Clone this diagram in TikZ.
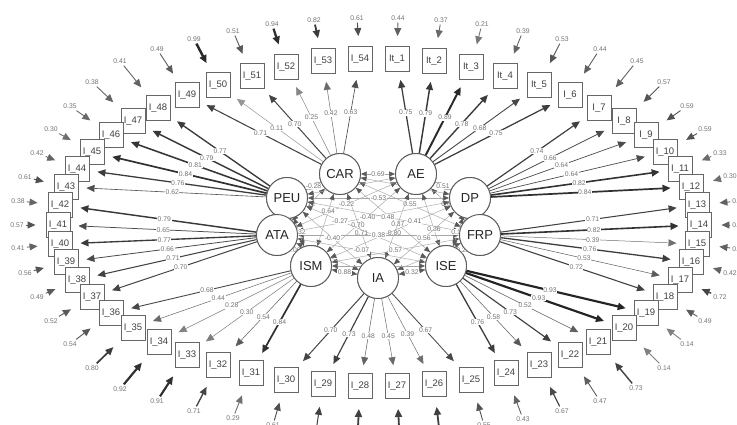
\documentclass[tikz,border=0pt]{standalone}
\usepackage{fontspec}
\setmainfont{Liberation Sans}
\usetikzlibrary{arrows.meta}
\newcommand\ldg[3]{%
  \pgfmathsetmacro\lw{0.5+5*max(0,#3-0.6)}%
  \pgfmathtruncatemacro\lc{35+55*#3}%
  \draw[load, line width=\lw pt, draw=black!\lc] (#1) -- node[lab]{#3} (#2);}
\newcommand\er[5]{%
  \node[val] (e#1) at (#2,#3) {#4};%
  \pgfmathsetmacro\lw{0.9+4*max(0,#4-0.6)}%
  \pgfmathtruncatemacro\lc{45+40*#4}%
  \draw[errar, line width=\lw pt, draw=black!\lc] (e#1) -- (#5);}
\newcommand\erc[5]{%
  \coordinate (e#1) at (#2,#3);%
  \draw[errar, line width=#4pt, draw=black!75] (e#1) -- (#5);}
\newcommand\cv[4][0.5]{\draw[cov] (#2) -- node[lab,pos=#1]{#4} (#3);}
\newcommand\cvn[2]{\draw[cov] (#1) -- (#2);}
\begin{document}
\begin{tikzpicture}[x=1pt,y=-1pt,
  item/.style={draw=black!60, line width=0.9pt, fill=white, minimum width=24pt, minimum height=25pt, inner sep=0pt, font=\fontsize{9.5}{10}\selectfont, text=black!75},
  lat/.style={circle, draw=black!65, line width=0.9pt, fill=white, minimum size=41pt, inner sep=0pt, font=\fontsize{13}{14}\selectfont, text=black!85},
  val/.style={font=\fontsize{6.8}{7}\selectfont, text=black!55, inner sep=2pt},
  lab/.style={font=\fontsize{6.8}{7}\selectfont, text=black!55, fill=white, inner sep=0.6pt},
  load/.style={-{Triangle[length=8pt,width=7pt]}, shorten >=8pt},
  errar/.style={-{Triangle[length=8pt,width=7pt]}, shorten >=10pt},
  cov/.style={draw=black!35, line width=0.45pt, {Triangle[length=6pt,width=5pt,color=black!65]}-{Triangle[length=6pt,width=5pt,color=black!65]}}
]
\useasboundingbox (0,0) rectangle (737,425);
\fill[white] (0,0) rectangle (737,425);
% latent variables
\node[lat] (CAR) at (340,174) {CAR};
\node[lat] (AE)  at (416,174) {AE};
\node[lat] (PEU) at (287,198) {PEU};
\node[lat] (DP)  at (470,198) {DP};
\node[lat] (ATA) at (277,235) {ATA};
\node[lat] (FRP) at (480,235) {FRP};
\node[lat] (ISM) at (311,266) {ISM};
\node[lat] (ISE) at (446,266) {ISE};
\node[lat] (IA)  at (378,278) {IA};
% items
\foreach \n/\t/\x/\y in {
 i54/I\_54/360/59, it1/It\_1/397/59, i53/I\_53/323/61, it2/It\_2/434/61,
 i52/I\_52/286/67, it3/It\_3/471/67, i51/I\_51/252/76, it4/It\_4/505/76,
 i50/I\_50/218/85, it5/It\_5/539/85, i49/I\_49/187/95, i6/I\_6/570/95,
 i48/I\_48/158/108, i7/I\_7/599/108, i47/I\_47/133/121, i8/I\_8/624/121,
 i46/I\_46/111/135, i9/I\_9/646/135, i45/I\_45/92/152, i10/I\_10/665/152,
 i44/I\_44/77/169, i11/I\_11/680/169, i43/I\_43/66/187, i12/I\_12/691/187,
 i42/I\_42/60/205, i13/I\_13/697/205, i41/I\_41/58/225, i14/I\_14/699/225,
 i40/I\_40/60/244, i15/I\_15/697/244, i39/I\_39/66/262, i16/I\_16/691/262,
 i38/I\_38/77/280, i17/I\_17/680/280, i37/I\_37/92/297, i18/I\_18/665/297,
 i36/I\_36/111/313, i19/I\_19/646/313, i35/I\_35/133/328, i20/I\_20/624/328,
 i34/I\_34/159/342, i21/I\_21/598/342, i33/I\_33/187/355, i22/I\_22/570/355,
 i32/I\_32/218/365, i23/I\_23/539/365, i31/I\_31/251/373, i24/I\_24/506/373,
 i30/I\_30/286/380, i25/I\_25/471/380, i29/I\_29/323/384, i26/I\_26/434/384,
 i28/I\_28/360/386, i27/I\_27/397/386}
 \node[item] (\n) at (\x,\y) {\t};
% loadings
\ldg{CAR}{i49}{0.71}\ldg{CAR}{i50}{0.11}\ldg{CAR}{i51}{0.70}
\ldg{CAR}{i52}{0.25}\ldg{CAR}{i53}{0.42}\ldg{CAR}{i54}{0.63}
\ldg{AE}{it1}{0.75}\ldg{AE}{it2}{0.79}\ldg{AE}{it3}{0.89}
\ldg{AE}{it4}{0.78}\ldg{AE}{it5}{0.68}\ldg{AE}{i6}{0.75}
\ldg{DP}{i7}{0.74}\ldg{DP}{i8}{0.66}\ldg{DP}{i9}{0.64}
\ldg{DP}{i10}{0.64}\ldg{DP}{i11}{0.82}\ldg{DP}{i12}{0.84}
\ldg{FRP}{i13}{0.71}\ldg{FRP}{i14}{0.82}\ldg{FRP}{i15}{0.39}
\ldg{FRP}{i16}{0.76}\ldg{FRP}{i17}{0.53}\ldg{FRP}{i18}{0.72}
\ldg{ISE}{i19}{0.93}\ldg{ISE}{i20}{0.93}\ldg{ISE}{i21}{0.52}
\ldg{ISE}{i22}{0.73}\ldg{ISE}{i23}{0.58}\ldg{ISE}{i24}{0.76}
\ldg{IA}{i25}{0.67}\ldg{IA}{i26}{0.39}\ldg{IA}{i27}{0.45}
\ldg{IA}{i28}{0.48}\ldg{IA}{i29}{0.73}\ldg{IA}{i30}{0.70}
\ldg{ISM}{i31}{0.84}\ldg{ISM}{i32}{0.54}\ldg{ISM}{i33}{0.30}
\ldg{ISM}{i34}{0.28}\ldg{ISM}{i35}{0.44}\ldg{ISM}{i36}{0.68}
\ldg{ATA}{i37}{0.70}\ldg{ATA}{i38}{0.71}\ldg{ATA}{i39}{0.66}
\ldg{ATA}{i40}{0.77}\ldg{ATA}{i41}{0.65}\ldg{ATA}{i42}{0.79}
\ldg{PEU}{i43}{0.62}\ldg{PEU}{i44}{0.76}\ldg{PEU}{i45}{0.84}
\ldg{PEU}{i46}{0.81}\ldg{PEU}{i47}{0.79}\ldg{PEU}{i48}{0.77}
% residuals
\er{54}{357}{18}{0.61}{i54}\er{t1}{398}{18}{0.44}{it1}
\er{53}{314}{20}{0.82}{i53}\er{t2}{441}{20}{0.37}{it2}
\er{52}{272}{24}{0.94}{i52}\er{t3}{482}{24}{0.21}{it3}
\er{51}{233}{31}{0.51}{i51}\er{t4}{523}{31}{0.39}{it4}
\er{50}{194}{39}{0.99}{i50}\er{t5}{562}{39}{0.53}{it5}
\er{49}{157}{49}{0.49}{i49}\er{6}{600}{49}{0.44}{i6}
\er{48}{120}{61}{0.41}{i48}\er{7}{637}{61}{0.45}{i7}
\er{47}{92}{82}{0.38}{i47}\er{8}{664}{82}{0.57}{i8}
\er{46}{70}{106}{0.35}{i46}\er{9}{687}{106}{0.59}{i9}
\er{45}{51}{129}{0.30}{i45}\er{10}{705}{129}{0.59}{i10}
\er{44}{37}{153}{0.42}{i44}\er{11}{720}{153}{0.33}{i11}
\er{43}{25}{177}{0.61}{i43}\er{12}{730}{176}{0.30}{i12}
\er{42}{18}{201}{0.38}{i42}\er{13}{739}{201}{0.41}{i13}
\er{41}{17}{225}{0.57}{i41}\er{14}{739}{225}{0.43}{i14}
\er{40}{18}{248}{0.41}{i40}\er{15}{739}{249}{0.45}{i15}
\er{39}{25}{273}{0.56}{i39}\er{16}{730}{273}{0.42}{i16}
\er{38}{37}{297}{0.49}{i38}\er{17}{720}{297}{0.72}{i17}
\er{37}{51}{321}{0.52}{i37}\er{18}{705}{321}{0.49}{i18}
\er{36}{70}{344}{0.54}{i36}\er{19}{687}{344}{0.14}{i19}
\er{35}{92}{368}{0.80}{i35}\er{20}{664}{368}{0.14}{i20}
\er{34}{120}{389}{0.92}{i34}\er{21}{636}{388}{0.73}{i21}
\er{33}{157}{401}{0.91}{i33}\er{22}{600}{401}{0.47}{i22}
\er{32}{194}{411}{0.71}{i32}\er{23}{562}{411}{0.67}{i23}
\er{31}{233}{418}{0.29}{i31}\er{24}{523}{419}{0.43}{i24}
\er{30}{273}{425}{0.61}{i30}\er{25}{484}{425}{0.55}{i25}
\erc{29}{314}{445}{1}{i29}\erc{28}{357}{447}{1.8}{i28}
\erc{27}{400}{447}{1.8}{i27}\erc{26}{441}{445}{1.8}{i26}
% covariances
\cv{CAR}{AE}{0.69}\cv{PEU}{DP}{-0.53}\cv{PEU}{CAR}{-0.28}\cv{AE}{DP}{0.51}
\cv{CAR}{ATA}{0.12}\cv{AE}{FRP}{0.66}\cv{CAR}{FRP}{0.55}\cv{AE}{ATA}{-0.22}
\cv[0.326]{CAR}{ISM}{0.64}\cv[0.674]{AE}{ISE}{0.36}
\cv[0.574]{AE}{ISM}{0.70}\cv[0.566]{CAR}{ISE}{0.37}
\cv[0.607]{CAR}{IA}{0.71}\cv[0.607]{AE}{IA}{0.80}
\cv[0.462]{ATA}{DP}{-0.40}\cv[0.529]{PEU}{FRP}{0.48}
\cv[0.281]{PEU}{ISE}{-0.27}\cv[0.298]{DP}{ISM}{0.41}
\cv{ATA}{FRP}{0.38}\cv{PEU}{IA}{-0.40}
\cv{DP}{IA}{0.56}\cv{ATA}{ISE}{-0.07}\cv{FRP}{ISM}{0.57}\cv{ISM}{IA}{0.88}
\cv{ISE}{IA}{0.32}\cv{PEU}{ISM}{0.32}\cv{DP}{ISE}{0.18}\cv{ATA}{ISM}{0.06}
\cv{FRP}{ISE}{0.25}
\cvn{PEU}{AE}\cvn{CAR}{DP}\cvn{ATA}{IA}\cvn{FRP}{IA}\cvn{ISM}{ISE}\cvn{DP}{FRP}\cvn{PEU}{ATA}
% redraw latents on top
\foreach \n/\x/\y in {CAR/340/174, AE/416/174, PEU/287/198, DP/470/198, ATA/277/235, FRP/480/235, ISM/311/266, ISE/446/266, IA/378/278}
 \node[lat] at (\x,\y) {\n};
\end{tikzpicture}
\end{document}
